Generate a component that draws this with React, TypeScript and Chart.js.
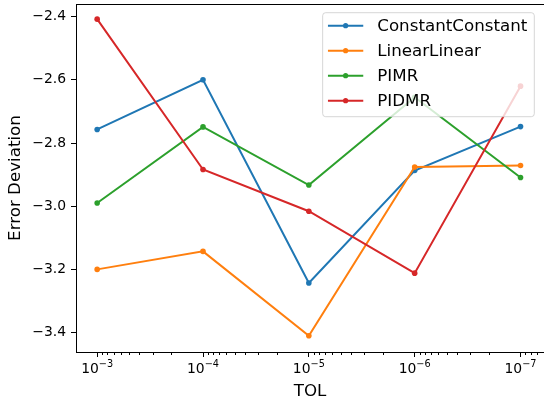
import React, { useEffect, useRef } from "react";
import { Chart, registerables } from "chart.js";
Chart.register(...registerables);

const tolValues = [1e-3, 1e-4, 1e-5, 1e-6, 1e-7];
const tolBase = "10";
const tolExponents = ["\u22123", "\u22124", "\u22125", "\u22126", "\u22127"];
const constantConstant = [-2.757, -2.6, -3.243, -2.887, -2.748];
const linearLinear = [-3.2, -3.143, -3.41, -2.876, -2.871];
const pimr = [-2.99, -2.749, -2.933, -2.655, -2.909];
const pidmr = [-2.408, -2.884, -3.016, -3.212, -2.62];
const seriesNames = ["ConstantConstant", "LinearLinear", "PIMR", "PIDMR"];
const seriesValues = [constantConstant, linearLinear, pimr, pidmr];
const seriesColors = ["#1f77b4", "#ff7f0e", "#2ca02c", "#d62728"];
const yTicks = [-3.4, -3.2, -3.0, -2.8, -2.6, -2.4];
const yTickLabels = ["\u22123.4", "\u22123.2", "\u22123.0", "\u22122.8", "\u22122.6", "\u22122.4"];
const yMin = -3.4615;
const yMax = -2.36;
const xMin = Math.pow(10, -7.2);
const xMax = Math.pow(10, -2.8);

const FONT = "DejaVu Sans";
const TICK_FS = 13.9;

const framePlugin = {
  id: "frameAndMinor",
  afterDraw(chart: any) {
    const { ctx, chartArea } = chart;
    const xs = chart.scales.x;
    ctx.save();
    ctx.strokeStyle = "#000";
    ctx.lineWidth = 1;
    // minor ticks
    ctx.beginPath();
    for (let k = -8; k <= -2; k++) {
      for (let m = 2; m <= 9; m++) {
        const v = m * Math.pow(10, k);
        if (v < xMin || v > xMax) continue;
        const px = Math.round(xs.getPixelForValue(v)) + 0.5;
        ctx.moveTo(px, chartArea.bottom);
        ctx.lineTo(px, chartArea.bottom + 3);
      }
    }
    ctx.stroke();
    // frame
    ctx.strokeRect(
      Math.round(chartArea.left) + 0.5,
      Math.round(chartArea.top) + 0.5,
      Math.round(chartArea.right - chartArea.left),
      Math.round(chartArea.bottom - chartArea.top)
    );
    // x tick labels with superscript exponents
    ctx.fillStyle = "#000";
    ctx.textBaseline = "alphabetic";
    ctx.textAlign = "left";
    const supFs = TICK_FS * 0.7;
    tolValues.forEach((v, i) => {
      const px = xs.getPixelForValue(v);
      ctx.font = `${TICK_FS}px "${FONT}"`;
      const wb = ctx.measureText(tolBase).width;
      ctx.font = `${supFs}px "${FONT}"`;
      const we = ctx.measureText(tolExponents[i]).width;
      const x0 = px - (wb + we) / 2;
      const base = chartArea.bottom + 21;
      ctx.font = `${TICK_FS}px "${FONT}"`;
      ctx.fillText(tolBase, x0, base);
      ctx.font = `${supFs}px "${FONT}"`;
      ctx.fillText(tolExponents[i], x0 + wb, base - 6.5);
    });
    ctx.restore();
  },
};

const legendPlugin = {
  id: "mplLegend",
  afterDatasetsDraw(chart: any) {
    const { ctx, chartArea } = chart;
    const fs = 16.7;
    ctx.save();
    ctx.font = `${fs}px "${FONT}"`;
    const ds = chart.data.datasets;
    let maxW = 0;
    ds.forEach((d: any) => {
      maxW = Math.max(maxW, ctx.measureText(d.label).width);
    });
    const padL = 5.3;
    const handle = 35.3;
    const gap = 14;
    const padR = 7;
    const w = padL + handle + gap + maxW + padR;
    const h = 104;
    const right = chartArea.right - 9.7;
    const left = right - w;
    const top = chartArea.top + 8.7;
    const r = 3;
    ctx.beginPath();
    ctx.moveTo(left + r, top);
    ctx.lineTo(left + w - r, top);
    ctx.quadraticCurveTo(left + w, top, left + w, top + r);
    ctx.lineTo(left + w, top + h - r);
    ctx.quadraticCurveTo(left + w, top + h, left + w - r, top + h);
    ctx.lineTo(left + r, top + h);
    ctx.quadraticCurveTo(left, top + h, left, top + h - r);
    ctx.lineTo(left, top + r);
    ctx.quadraticCurveTo(left, top, left + r, top);
    ctx.closePath();
    ctx.fillStyle = "rgba(255,255,255,0.8)";
    ctx.fill();
    ctx.strokeStyle = "rgba(204,204,204,0.8)";
    ctx.lineWidth = 1;
    ctx.stroke();
    ds.forEach((d: any, i: number) => {
      const cy = top + 13 + i * 25;
      const x0 = left + padL;
      ctx.strokeStyle = d.borderColor;
      ctx.lineWidth = 2;
      ctx.beginPath();
      ctx.moveTo(x0, cy);
      ctx.lineTo(x0 + handle, cy);
      ctx.stroke();
      ctx.fillStyle = d.borderColor;
      ctx.beginPath();
      ctx.arc(x0 + handle / 2, cy, 2.6, 0, Math.PI * 2);
      ctx.fill();
      ctx.fillStyle = "#000";
      ctx.textBaseline = "middle";
      ctx.textAlign = "left";
      ctx.fillText(d.label, x0 + handle + gap, cy + 1);
    });
    ctx.restore();
  },
};

export default function App() {
  const ref = useRef<HTMLCanvasElement | null>(null);
  useEffect(() => {
    if (!ref.current) return;
    const chart = new Chart(ref.current, {
      type: "line",
      data: {
        datasets: seriesNames.map((name, i) => ({
          label: name,
          data: tolValues.map((t, j) => ({ x: t, y: seriesValues[i][j] })),
          borderColor: seriesColors[i],
          backgroundColor: seriesColors[i],
          pointBackgroundColor: seriesColors[i],
          pointBorderWidth: 0,
          pointRadius: 2.8,
          borderWidth: 2,
          tension: 0,
          fill: false,
          order: 3 - i,
        })),
      },
      options: {
        responsive: false,
        animation: false,
        devicePixelRatio: 1,
        layout: { padding: { left: 0, top: 4, right: 1, bottom: 0 } },
        plugins: { legend: { display: false }, tooltip: { enabled: false } },
        scales: {
          x: {
            type: "logarithmic",
            reverse: true,
            min: xMin,
            max: xMax,
            afterBuildTicks: (scale: any) => {
              scale.ticks = tolValues.map((v) => ({ value: v, major: true }));
            },
            afterFit: (scale: any) => {
              scale.height = 50;
              scale.paddingLeft = 0;
              scale.paddingRight = 0;
            },
            grid: {
              display: true,
              drawOnChartArea: false,
              drawTicks: true,
              tickLength: 5,
              color: "#000",
            },
            border: { display: true, color: "#000", width: 1 },
            ticks: {
              autoSkip: false,
              maxRotation: 0,
              padding: 3,
              color: "#000",
              font: { family: FONT, size: TICK_FS },
              callback: () => "",
            },
            title: {
              display: true,
              text: "TOL",
              color: "#000",
              font: { family: FONT, size: 16.7 },
              padding: { top: 4, bottom: 0 },
            },
          },
          y: {
            type: "linear",
            min: yMin,
            max: yMax,
            afterBuildTicks: (scale: any) => {
              scale.ticks = yTicks.map((v) => ({ value: v }));
            },
            afterFit: (scale: any) => {
              scale.width = 76;
              scale.paddingTop = 0;
              scale.paddingBottom = 0;
            },
            grid: {
              display: true,
              drawOnChartArea: false,
              drawTicks: true,
              tickLength: 5,
              color: "#000",
            },
            border: { display: true, color: "#000", width: 1 },
            ticks: {
              padding: 5,
              color: "#000",
              font: { family: FONT, size: TICK_FS },
              callback: (value: any) => {
                const idx = yTicks.findIndex((t) => Math.abs(t - Number(value)) < 1e-6);
                return idx >= 0 ? yTickLabels[idx] : "";
              },
            },
            title: {
              display: true,
              text: "Error Deviation",
              color: "#000",
              font: { family: FONT, size: 16.7 },
              padding: { top: 6, bottom: 0 },
            },
          },
        },
      },
      plugins: [legendPlugin, framePlugin],
    } as any);
    return () => chart.destroy();
  }, []);
  return (
    <div
      style={{
        position: "fixed",
        left: 0,
        top: 0,
        width: 544,
        height: 402,
        overflow: "hidden",
        background: "#fff",
      }}
    >
      <canvas
        ref={ref}
        width={548}
        height={402}
        style={{ width: 548, height: 402, display: "block" }}
      />
    </div>
  );
}
